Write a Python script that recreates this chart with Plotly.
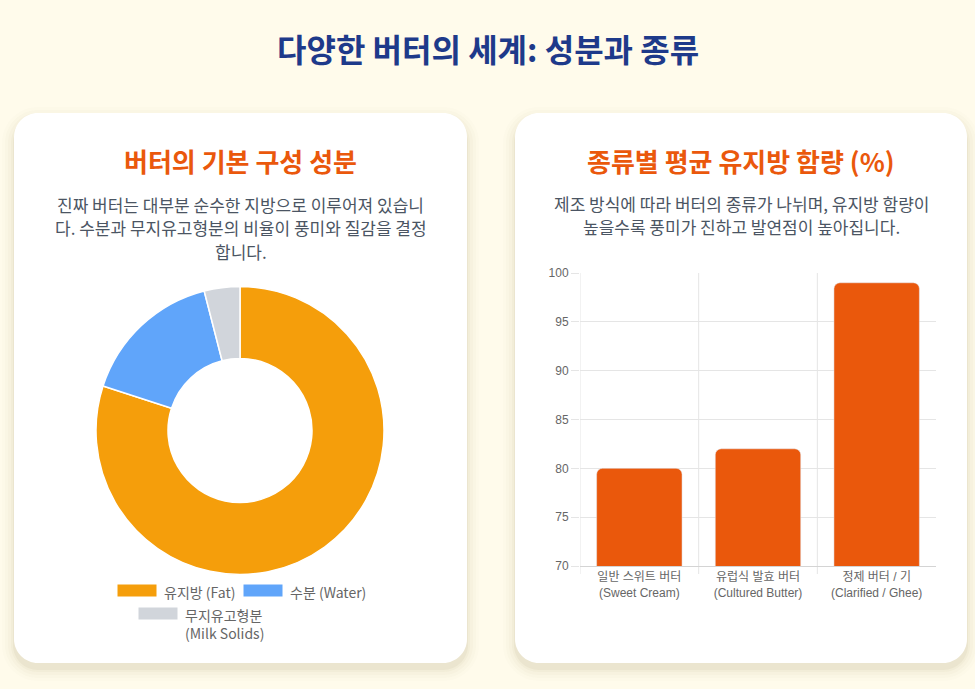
import plotly.graph_objects as go

# ---------------- data ----------------
comp_labels = ["유지방 (Fat)", "수분 (Water)", "무지유고형분<br>(Milk Solids)"]
comp_values = [80, 16, 4]
comp_colors = ["#f59e0b", "#60a5fa", "#d1d5db"]

type_labels = ["일반 스위트 버터<br>(Sweet Cream)", "유럽식 발효 버터<br>(Cultured Butter)", "정제 버터 / 기<br>(Clarified / Ghee)"]
type_values = [80, 82, 99]
y_ticks = [70, 75, 80, 85, 90, 95, 100]

left_sub = ["진짜 버터는 대부분 순수한 지방으로 이루어져 있습니",
            "다. 수분과 무지유고형분의 비율이 풍미와 질감을 결정",
            "합니다."]
right_sub = ["제조 방식에 따라 버터의 종류가 나뉘며, 유지방 함량이",
             "높을수록 풍미가 진하고 발연점이 높아집니다."]

W, H = 975, 689
BG = "#fffbeb"
KR = "Noto Sans CJK KR, Noto Sans, sans-serif"
CJ = "Liberation Sans, Arial, Noto Sans CJK KR, sans-serif"


def px(x):
    return x / W


def py(y):
    return 1 - y / H


def rrect(x0, y0, x1, y1, r):
    k = 0.5523 * r
    def P(x, y):
        return f"{px(x):.5f},{py(y):.5f}"
    d = f"M {P(x0 + r, y0)} L {P(x1 - r, y0)} "
    d += f"C {P(x1 - r + k, y0)} {P(x1, y0 + r - k)} {P(x1, y0 + r)} "
    d += f"L {P(x1, y1 - r)} "
    d += f"C {P(x1, y1 - r + k)} {P(x1 - r + k, y1)} {P(x1 - r, y1)} "
    d += f"L {P(x0 + r, y1)} "
    d += f"C {P(x0 + r - k, y1)} {P(x0, y1 - r + k)} {P(x0, y1 - r)} "
    d += f"L {P(x0, y0 + r)} "
    d += f"C {P(x0, y0 + r - k)} {P(x0 + r - k, y0)} {P(x0 + r, y0)} Z"
    return d


fig = go.Figure()

# donut
fig.add_trace(go.Pie(
    labels=comp_labels, values=comp_values, hole=0.5, sort=False,
    direction="clockwise", rotation=0, automargin=False,
    marker=dict(colors=comp_colors, line=dict(color="white", width=1.5)),
    textinfo="none", showlegend=False,
    domain=dict(x=[px(96), px(384)], y=[py(575), py(286)]),
    hovertemplate="%{label}: %{value}%<extra></extra>",
))

# bars
fig.add_trace(go.Bar(
    x=type_labels, y=type_values, width=0.72,
    marker=dict(color="#ea580c", cornerradius=6),
    showlegend=False, xaxis="x", yaxis="y",
    hovertemplate="%{x}: %{y}%<extra></extra>",
))

shapes = []
cards = [(14, 113, 467, 663), (515, 113, 967, 663)]
for (x0, y0, x1, y1) in cards:
    for e, op in [(12, 0.012), (9, 0.018), (6, 0.025), (3, 0.035), (1, 0.05)]:
        shapes.append(dict(type="path", xref="paper", yref="paper", layer="below",
                           path=rrect(x0 - e, y0 - e + 6, x1 + e, y1 + e + 6, 24 + e),
                           fillcolor=f"rgba(120,100,40,{op})", line=dict(width=0)))
    shapes.append(dict(type="path", xref="paper", yref="paper", layer="below",
                       path=rrect(x0, y0, x1, y1, 24), fillcolor="white",
                       line=dict(width=0)))

# vertical category boundary lines (Chart.js style grid)
for xb in [-0.5, 0.5, 1.5]:
    shapes.append(dict(type="line", xref="x", yref="paper", layer="below",
                       x0=xb, x1=xb, y0=py(574), y1=py(273),
                       line=dict(color="#e5e5e5", width=1)))

# custom legend
leg = [(117, 584, 0), (243, 584, 1), (138, 607, 2)]
annotations = []
for (lx, ly, i) in leg:
    shapes.append(dict(type="rect", xref="paper", yref="paper",
                       x0=px(lx), x1=px(lx + 40), y0=py(ly + 13), y1=py(ly),
                       fillcolor=comp_colors[i], line=dict(color="white", width=1)))
    annotations.append(dict(xref="paper", yref="paper", x=px(lx + 45), y=py(ly - 4),
                            xanchor="left", yanchor="top", showarrow=False, align="left",
                            text=comp_labels[i],
                            font=dict(family=KR, size=14, color="#666666")))

# titles
annotations += [
    dict(xref="paper", yref="paper", x=0.5, y=py(48), xanchor="center", yanchor="middle",
         showarrow=False, text="<b>다양한 버터의 세계: 성분과 종류</b>",
         font=dict(family=KR, size=32, color="#1e3a8a")),
    dict(xref="paper", yref="paper", x=px(240.5), y=py(160), xanchor="center", yanchor="middle",
         showarrow=False, text="<b>버터의 기본 구성 성분</b>",
         font=dict(family=KR, size=26, color="#ea580c")),
    dict(xref="paper", yref="paper", x=px(741), y=py(160), xanchor="center", yanchor="middle",
         showarrow=False, text="<b>종류별 평균 유지방 함량 (%)</b>",
         font=dict(family=KR, size=26, color="#ea580c")),
]
for j, line in enumerate(left_sub):
    annotations.append(dict(xref="paper", yref="paper", x=px(240.5), y=py(204 + 23.5 * j),
                            xanchor="center", yanchor="middle", showarrow=False, text=line,
                            font=dict(family=KR, size=17, color="#4b5563")))
for j, line in enumerate(right_sub):
    annotations.append(dict(xref="paper", yref="paper", x=px(741), y=py(203 + 24 * j),
                            xanchor="center", yanchor="middle", showarrow=False, text=line,
                            font=dict(family=KR, size=17, color="#4b5563")))

fig.update_layout(
    width=W, height=H, autosize=False,
    margin=dict(l=0, r=0, t=0, b=0, pad=0),
    paper_bgcolor=BG, plot_bgcolor="rgba(0,0,0,0)",
    shapes=shapes, annotations=annotations, showlegend=False,
    xaxis=dict(domain=[px(580), px(936)], anchor="y", type="category", automargin=False,
               range=[-0.5, 2.5], showgrid=False, showline=True, linecolor="#d4d4d4",
               tickfont=dict(family=CJ, size=12, color="#666666"), ticks="",
               fixedrange=True, zeroline=False),
    yaxis=dict(domain=[py(566), py(273)], anchor="x", range=[70, 100], automargin=False,
               tickvals=y_ticks, showgrid=True, gridcolor="#e5e5e5", gridwidth=1,
               zeroline=False, showline=False, ticks="outside", ticklen=8,
               tickcolor="#e5e5e5", tickfont=dict(family=CJ, size=12, color="#666666"),
               fixedrange=True),
    hoverlabel=dict(font=dict(family=KR)),
)

fig.write_html("out.html", config={"displayModeBar": False},
               post_script="document.body.style.margin='0';document.body.style.overflow='hidden';")
